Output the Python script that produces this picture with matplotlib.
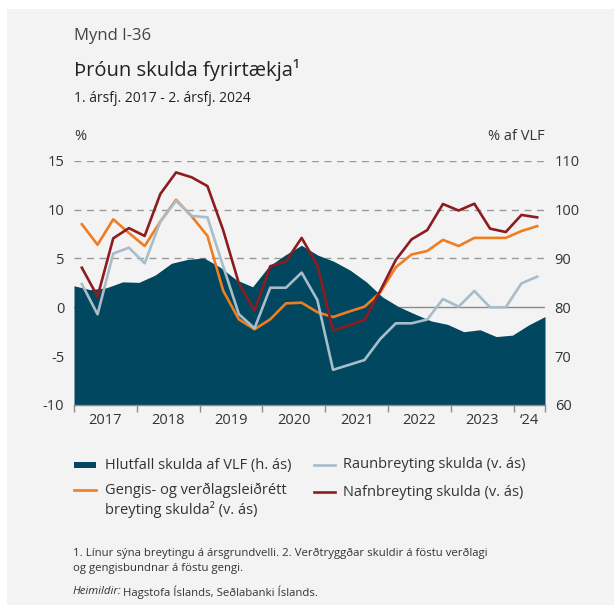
import numpy as np
import matplotlib
matplotlib.use("Agg")
import matplotlib.pyplot as plt
from matplotlib.patches import Rectangle
from matplotlib.lines import Line2D

plt.rcParams['font.family'] = ['Open Sans', 'DejaVu Sans']

# Gögn: ársfjórðungar 2017F1 - 2024F2
year_labels = ['2017', '2018', '2019', '2020', '2021', '2022', '2023', '‘24']

# Hlutfall skulda af VLF (hægri ás)
hlutfall = [84.4, 83.6, 84.0, 85.2, 85.1, 86.6, 89.0, 89.8, 90.1, 88.2,
            85.6, 84.2, 88.4, 90.7, 92.7, 90.7, 89.4, 87.6, 85.2, 82.1,
            80.1, 78.6, 77.2, 76.5, 75.0, 75.4, 74.0, 74.3, 76.4, 78.1]

# Gengis- og verðlagsleiðrétt breyting (vinstri ás)
gengis = [8.5, 6.4, 9.0, 7.6, 6.27, 8.77, 11.0, 9.3, 7.3, 1.7,
          -1.23, -2.25, -1.23, 0.4, 0.47, -0.5, -1.0, -0.45, 0.06, 1.5,
          4.1, 5.4, 5.76, 6.9, 6.27, 7.1, 7.1, 7.1, 7.8, 8.3]

# Raunbreyting skulda
raun = [2.38, -0.72, 5.5, 6.1, 4.5, 8.77, 10.9, 9.35, 9.2, 4.2,
        -0.7, -2.15, 2.0, 2.0, 3.55, 0.75, -6.4, -5.9, -5.4, -3.25,
        -1.64, -1.64, -1.25, 0.85, 0.06, 1.67, 0.0, 0.0, 2.45, 3.13]

# Nafnbreyting skulda
nafn = [4.05, 1.1, 7.06, 8.1, 7.3, 11.6, 13.8, 13.3, 12.4, 7.9,
        2.45, -0.35, 4.2, 4.7, 7.1, 4.3, -2.4, -1.85, -1.3, 1.67,
        4.85, 6.95, 7.9, 10.57, 9.9, 10.6, 8.05, 7.7, 9.45, 9.2]

W, H = 614, 605
BG = '#f3f3f3'
TXT = '#333333'
C_AREA = '#00475f'
C_ORANGE = '#ef7d22'
C_GREY = '#a8bdc9'
C_RED = '#8c1c1f'


def fx(px):
    return px / W


def fy(py):
    return 1 - py / H


fig = plt.figure(figsize=(W / 100, H / 100), dpi=100, facecolor='white')
fig.patches.append(Rectangle((fx(7), 0), 1 - fx(7), fy(9), transform=fig.transFigure,
                             facecolor=BG, edgecolor='none', zorder=-10))

ax = fig.add_axes([fx(74), fy(405), fx(545) - fx(74), fy(160.7) - fy(405)])
ax.set_facecolor(BG)
ax.patch.set_alpha(0)
ax2 = ax.twinx()

n = len(gengis)
x_line = np.arange(n) + 0.5
x_area = np.linspace(0, n, len(hlutfall))

ax.set_xlim(0, n)
ax.set_ylim(-10, 15)
ax2.set_ylim(60, 110)

# Grid (aftast)
for v in [5, 10, 15]:
    ax.axhline(v, color='#9a9a9a', lw=1, ls=(0, (5, 4)), zorder=0)
ax.axhline(0, color='#8a8a8a', lw=1, zorder=0)

# Svæðið er á hægri ás, teiknað á vinstri ás: v = (R-80)/2
area_left = [(h - 80) / 2 for h in hlutfall]
ax.fill_between(x_area, -10, area_left, color=C_AREA, lw=0, zorder=1)

ax.plot(x_line, gengis, color=C_ORANGE, lw=1.9, zorder=3)
ax.plot(x_line, raun, color=C_GREY, lw=1.9, zorder=3)
ax.plot(x_line, nafn, color=C_RED, lw=1.9, zorder=4)

ax.set_zorder(ax2.get_zorder() + 1)

for a in (ax, ax2):
    for s in a.spines.values():
        s.set_visible(False)
ax.spines['bottom'].set_visible(True)
ax.spines['bottom'].set_color('#8a8a8a')
ax.spines['bottom'].set_linewidth(1)

ax.set_yticks([-10, -5, 0, 5, 10, 15])
ax.set_yticklabels(['-10', '-5', '0', '5', '10', '15'])
ax.tick_params(axis='y', length=0, pad=7, labelsize=10.5, labelcolor=TXT)
ax2.set_yticks([60, 70, 80, 90, 100, 110])
ax2.set_yticklabels(['60', '70', '80', '90', '100', '110'])
ax2.tick_params(axis='y', length=0, pad=7, labelsize=10.5, labelcolor=TXT)

ax.set_xticks([2, 6, 10, 14, 18, 22, 26, 29])
ax.set_xticklabels(year_labels)
ax.set_xticks([0, 4, 8, 12, 16, 20, 24, 28, 30], minor=True)
ax.tick_params(axis='x', which='major', length=0, pad=6, labelsize=10.5, labelcolor=TXT)
ax.tick_params(axis='x', which='minor', length=5, width=1, color='#8a8a8a')

# Textar
fig.text(fx(74), fy(36), 'Mynd I-36', fontsize=12, color='#444444', va='center')
fig.text(fx(74), fy(70), 'Þróun skulda fyrirtækja¹', fontsize=14.5, color='#222222', va='center')
fig.text(fx(74), fy(99), '1. ársfj. 2017 - 2. ársfj. 2024', fontsize=10, color='#222222', va='center')
fig.text(fx(74), fy(137), '%', fontsize=10.5, color=TXT, va='center')
fig.text(fx(545), fy(137), '% af VLF', fontsize=10.5, color=TXT, va='center', ha='right')

# Skýringar
fig.patches.append(Rectangle((fx(74), fy(468)), fx(96) - fx(74), fy(462) - fy(468),
                             transform=fig.transFigure, facecolor=C_AREA, edgecolor='none'))
fig.lines.append(Line2D([fx(74), fx(96)], [fy(490), fy(490)], transform=fig.transFigure,
                        color=C_ORANGE, lw=1.9))
fig.lines.append(Line2D([fx(314), fx(335)], [fy(465), fy(465)], transform=fig.transFigure,
                        color=C_GREY, lw=1.9))
fig.lines.append(Line2D([fx(314), fx(335)], [fy(492), fy(492)], transform=fig.transFigure,
                        color=C_RED, lw=1.9))
leg_fs = 10.5
fig.text(fx(105), fy(465), 'Hlutfall skulda af VLF (h. ás)', fontsize=leg_fs, color=TXT, va='center')
fig.text(fx(105), fy(490), 'Gengis- og verðlagsleiðrétt', fontsize=leg_fs, color=TXT, va='center')
fig.text(fx(105), fy(510), 'breyting skulda² (v. ás)', fontsize=leg_fs, color=TXT, va='center')
fig.text(fx(343), fy(465), 'Raunbreyting skulda (v. ás)', fontsize=leg_fs, color=TXT, va='center')
fig.text(fx(343), fy(492), 'Nafnbreyting skulda (v. ás)', fontsize=leg_fs, color=TXT, va='center')

# Neðanmálsgreinar
fn_fs = 8.2
fig.text(fx(73), fy(553), '1. Línur sýna breytingu á ársgrundvelli. 2. Verðtryggðar skuldir á föstu verðlagi',
         fontsize=fn_fs, color=TXT, va='center')
fig.text(fx(73), fy(569), 'og gengisbundnar á föstu gengi.', fontsize=fn_fs, color=TXT, va='center')
t_it = fig.text(fx(73), fy(592), 'Heimildir:', fontsize=fn_fs, color=TXT, va='center', style='italic')
fig.canvas.draw()
bb = t_it.get_window_extent(renderer=fig.canvas.get_renderer())
fig.text(bb.x1 / fig.bbox.width + fx(1), fy(592), 'Hagstofa Íslands, Seðlabanki Íslands.',
         fontsize=fn_fs, color=TXT, va='center')

fig.savefig('out.png', dpi=100, facecolor=fig.get_facecolor())
